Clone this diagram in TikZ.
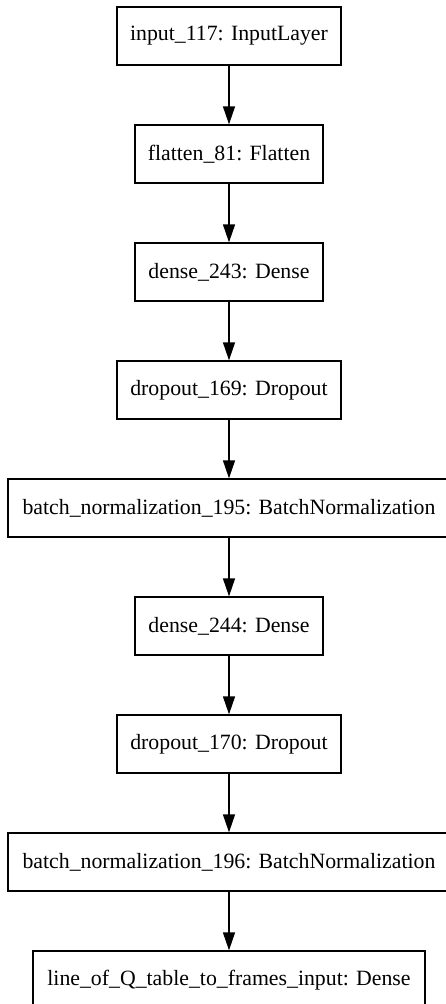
\documentclass[tikz,border=0pt]{standalone}
\usepackage{fontspec}
\setmainfont{Liberation Serif}
\usetikzlibrary{arrows.meta}
\begin{document}
\begin{tikzpicture}[x=1pt,y=-1pt,
  layer/.style={draw=black,line width=1.3pt,rectangle,minimum height=58pt,inner sep=0pt,
    font=\fontsize{21.8}{24}\selectfont},
  link/.style={line width=1.3pt,-{Triangle[length=18pt,width=12pt]}}]
\useasboundingbox (0,0) rectangle (446,1004);
\node[layer,minimum width=224pt] (n1) at (229,36) {input\_117: InputLayer};
\node[layer,minimum width=188pt] (n2) at (229,154) {flatten\_81: Flatten};
\node[layer,minimum width=188pt] (n3) at (229,272) {dense\_243: Dense};
\node[layer,minimum width=224pt] (n4) at (229,390) {dropout\_169: Dropout};
\node[layer,minimum width=442pt] (n5) at (229,508) {batch\_normalization\_195: BatchNormalization};
\node[layer,minimum width=188pt] (n6) at (229,626) {dense\_244: Dense};
\node[layer,minimum width=224pt] (n7) at (229,744) {dropout\_170: Dropout};
\node[layer,minimum width=442pt] (n8) at (229,862) {batch\_normalization\_196: BatchNormalization};
\node[layer,minimum width=392pt] (n9) at (229,980) {line\_of\_Q\_table\_to\_frames\_input: Dense};
\foreach \a/\b in {n1/n2,n2/n3,n3/n4,n4/n5,n5/n6,n6/n7,n7/n8,n8/n9}
  \draw[link] (\a) -- (\b);
\end{tikzpicture}
\end{document}
